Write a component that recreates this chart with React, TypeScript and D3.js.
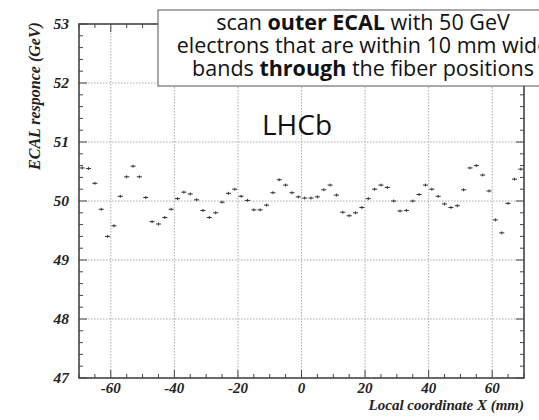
import React from "react";
import * as d3 from "d3";

const xPositions: number[] = [
  -69, -67, -65, -63, -61, -59, -57, -55, -53, -51, -49, -47, -45, -43, -41, -39, -37, -35,
  -33, -31, -29, -27, -25, -23, -21, -19, -17, -15, -13, -11, -9, -7, -5, -3, -1,
  1, 3, 5, 7, 9, 11, 13, 15, 17, 19, 21, 23, 25, 27, 29, 31, 33, 35, 37, 39, 41, 43,
  45, 47, 49, 51, 53, 55, 57, 59, 61, 63, 65, 67, 69,
];
const responses: number[] = [
  50.56, 50.55, 50.3, 49.86, 49.4, 49.58, 50.08, 50.41, 50.59, 50.41, 50.06, 49.65, 49.61, 49.72,
  49.86, 50.04, 50.15, 50.12, 50.02, 49.84, 49.72, 49.8, 49.98, 50.13, 50.2, 50.08, 50.01,
  49.85, 49.85, 49.93, 50.14, 50.36, 50.27, 50.14, 50.07,
  50.05, 50.05, 50.07, 50.19, 50.27, 50.1, 49.81, 49.75, 49.8, 49.89, 50.04, 50.2, 50.27, 50.23,
  50.0, 49.83, 49.84, 50.0, 50.11, 50.27, 50.2, 50.08, 49.95, 49.89, 49.92, 50.19, 50.56,
  50.6, 50.44, 50.17, 49.68, 49.46, 49.96, 50.37, 50.54,
];
const xTickLabels: number[] = [-60, -40, -20, 0, 20, 40, 60];
const yTickLabels: number[] = [47, 48, 49, 50, 51, 52, 53];
const noteLines: { t: string; b: boolean }[][] = [
  [{ t: "scan ", b: false }, { t: "outer ECAL", b: true }, { t: " with 50 GeV", b: false }],
  [{ t: "electrons that are within 10 mm wide", b: false }],
  [{ t: "bands ", b: false }, { t: "through", b: true }, { t: " the fiber positions", b: false }],
];

export default function App() {
  const W = 539, H = 420;
  const L = 79, R = 524, T = 24, B = 378;
  const x = d3.scaleLinear().domain([-70, 70]).range([L, R]);
  const y = d3.scaleLinear().domain([47, 53]).range([B, T]);
  const minorX = d3.range(-70, 70.001, 5);
  const minorY = d3.range(47, 53.001, 0.2);
  const serif = "'Liberation Serif', 'DejaVu Serif', serif";
  const frame = "#444";
  const data = xPositions.map((v, i) => ({ x: v, y: responses[i] }));
  return (
    <svg width={W} height={H} style={{ position: "absolute", left: 0, top: 0, background: "#fff" }}>
      {/* grid */}
      {xTickLabels.map((v) => (
        <line key={"gx" + v} x1={x(v)} x2={x(v)} y1={T} y2={B} stroke="#aaa" strokeWidth={1} strokeDasharray="1.5,1.5" />
      ))}
      {yTickLabels.slice(1, -1).map((v) => (
        <line key={"gy" + v} x1={L} x2={R} y1={y(v)} y2={y(v)} stroke="#aaa" strokeWidth={1} strokeDasharray="1.5,1.5" />
      ))}
      {/* ticks */}
      {minorX.map((v, i) => {
        const major = Math.abs(v % 20) < 1e-6;
        const len = major ? 8 : 4;
        return (
          <g key={"tx" + i}>
            <line x1={x(v)} x2={x(v)} y1={B} y2={B - len} stroke={frame} strokeWidth={1} />
            <line x1={x(v)} x2={x(v)} y1={T} y2={T + len} stroke={frame} strokeWidth={1} />
          </g>
        );
      })}
      {minorY.map((v, i) => {
        const major = Math.abs(v - Math.round(v)) < 1e-6;
        const len = major ? 8 : 4;
        return (
          <g key={"ty" + i}>
            <line x1={L} x2={L + len} y1={y(v)} y2={y(v)} stroke={frame} strokeWidth={1} />
            <line x1={R} x2={R - len} y1={y(v)} y2={y(v)} stroke={frame} strokeWidth={1} />
          </g>
        );
      })}
      {/* frame */}
      <rect x={L} y={T} width={R - L} height={B - T} fill="none" stroke={frame} strokeWidth={1.6} />
      {/* data */}
      {data.map((d, i) => (
        <g key={"p" + i} stroke="#333" strokeWidth={1}>
          <line x1={x(d.x - 0.8)} x2={x(d.x + 0.8)} y1={y(d.y)} y2={y(d.y)} />
          <line x1={x(d.x)} x2={x(d.x)} y1={y(d.y + 0.025)} y2={y(d.y - 0.025)} />
        </g>
      ))}
      {/* tick labels */}
      {xTickLabels.map((v) => (
        <text key={"lx" + v} x={x(v)} y={393} textAnchor="middle" fontFamily={serif} fontStyle="italic" fontWeight="bold" fontSize={15} fill="#222">
          {v}
        </text>
      ))}
      {yTickLabels.map((v) => (
        <text key={"ly" + v} x={69} y={y(v) + 5} textAnchor="end" fontFamily={serif} fontStyle="italic" fontWeight="bold" fontSize={15.5} fill="#222">
          {v}
        </text>
      ))}
      <text x={R} y={410} textAnchor="end" fontFamily={serif} fontStyle="italic" fontWeight="bold" fontSize={15} fill="#222">
        Local coordinate X (mm)
      </text>
      <text transform={`translate(40,96) rotate(-90)`} textAnchor="middle" fontFamily={serif} fontStyle="italic" fontWeight="bold" fontSize={16} fill="#222">
        ECAL responce (GeV)
      </text>
      {/* LHCb */}
      <text x={297} y={135} textAnchor="middle" fontFamily="'Open Sans', sans-serif" fontSize={28} fill="#111">
        LHCb
      </text>
      {/* note box */}
      <rect x={158} y={10} width={420} height={76} fill="#fff" stroke="#555" strokeWidth={1} />
      {noteLines.map((ln, i) => (
        <text key={"n" + i} x={363} y={30 + i * 23} textAnchor="middle" fontFamily="'Open Sans', sans-serif" fontSize={21.5} fill="#111">
          {ln.map((p, j) => (
            <tspan key={j} fontWeight={p.b ? "bold" : "normal"}>{p.t}</tspan>
          ))}
        </text>
      ))}
    </svg>
  );
}
